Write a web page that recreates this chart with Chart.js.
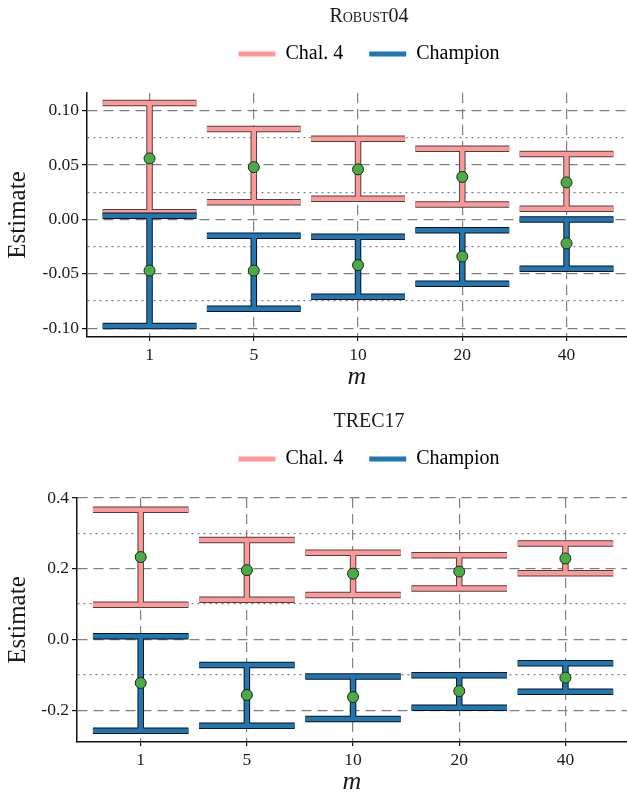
<!DOCTYPE html>
<html lang="en">
<head>
<meta charset="UTF-8">
<title>Robust04 / TREC17</title>
<script src="https://cdn.jsdelivr.net/npm/chart.js@4.4.1/dist/chart.umd.min.js"></script>
<style>
    html, body { margin: 0; padding: 0; background: #fff; overflow: hidden; }
    #wrap { width: 627px; height: 795px; overflow: hidden; position: relative; }
    canvas { display: block; position: absolute; left: 0; }
    #topChart { top: 0; }
    #bottomChart { top: 405px; }
</style>
</head>
<body>
<div id="wrap">
    <canvas id="topChart" width="738" height="405"></canvas>
    <canvas id="bottomChart" width="738" height="405"></canvas>
</div>
<script>
    var categories = ['1', '5', '10', '20', '40'];
    var seriesNames = ['Chal. 4', 'Champion'];

    // Robust04
    var robChalMean = [0.056, 0.048, 0.046, 0.039, 0.034];
    var robChalLow = [0.0066, 0.0157, 0.019, 0.0138, 0.0098];
    var robChalHigh = [0.107, 0.083, 0.074, 0.065, 0.060];
    var robChampMean = [-0.047, -0.047, -0.042, -0.034, -0.022];
    var robChampLow = [-0.098, -0.082, -0.071, -0.059, -0.0454];
    var robChampHigh = [0.0034, -0.015, -0.016, -0.010, 0.000];
    var robTicks = [-0.1, -0.05, 0, 0.05, 0.1];
    var robTickLabels = ['-0.10', '-0.05', '0.00', '0.05', '0.10'];
    var robMinorTicks = [-0.075, -0.025, 0.025, 0.075];

    // TREC17
    var trecChalMean = [0.233, 0.196, 0.186, 0.192, 0.229];
    var trecChalLow = [0.098, 0.112, 0.126, 0.144, 0.187];
    var trecChalHigh = [0.367, 0.281, 0.245, 0.238, 0.271];
    var trecChampMean = [-0.123, -0.157, -0.163, -0.146, -0.108];
    var trecChampLow = [-0.258, -0.244, -0.225, -0.193, -0.148];
    var trecChampHigh = [0.009, -0.072, -0.105, -0.101, -0.067];
    var trecTicks = [-0.2, 0, 0.2, 0.4];
    var trecTickLabels = ['-0.2', '0.0', '0.2', '0.4'];
    var trecMinorTicks = [-0.1, 0.1, 0.3];

    var pink = '#ff9896', blue = '#1f77b4', green = '#4aac44';
    var serif = "'Liberation Serif', 'DejaVu Serif', serif";
    var capHalf = 0.45;

    // caps + stem for every category, split by null gaps
    function errorSegments(low, high) {
        var pts = [];
        categories.forEach(function (c, i) {
            pts.push({x: i - capHalf, y: high[i]}, {x: i + capHalf, y: high[i]}, {x: i, y: null});
            pts.push({x: i - capHalf, y: low[i]}, {x: i + capHalf, y: low[i]}, {x: i, y: null});
            pts.push({x: i, y: low[i]}, {x: i, y: high[i]}, {x: i, y: null});
        });
        return pts;
    }

    function meanPoints(mean) {
        return categories.map(function (c, i) { return {x: i, y: mean[i]}; });
    }

    function segDataset(data, color, width, order) {
        return {
            type: 'line', data: data, borderColor: color, borderWidth: width,
            pointRadius: 0, pointHoverRadius: 0, fill: false, tension: 0,
            borderCapStyle: 'butt', borderJoinStyle: 'miter', order: order,
            xAxisID: 'x', yAxisID: 'y'
        };
    }

    function makeChart(id, title, d) {
        var ctx = document.getElementById(id).getContext('2d');
        var allTicks = d.ticks.concat(d.minor).sort(function (a, b) { return a - b; });
        function isMajor(v) {
            return d.ticks.some(function (t) { return Math.abs(t - v) < 1e-9; });
        }
        return new Chart(ctx, {
            type: 'line',
            data: {
                datasets: [
                    {
                        type: 'line', showLine: false, data: meanPoints(d.chalMean),
                        pointRadius: 5.5, pointBackgroundColor: green, pointBorderColor: '#222',
                        pointBorderWidth: 1, order: 0, xAxisID: 'x', yAxisID: 'y'
                    },
                    {
                        type: 'line', showLine: false, data: meanPoints(d.champMean),
                        pointRadius: 5.5, pointBackgroundColor: green, pointBorderColor: '#222',
                        pointBorderWidth: 1, order: 0, xAxisID: 'x', yAxisID: 'y'
                    },
                    segDataset(errorSegments(d.champLow, d.champHigh), blue, 4.5, 1),
                    segDataset(errorSegments(d.champLow, d.champHigh), '#111', 6.5, 2),
                    segDataset(errorSegments(d.chalLow, d.chalHigh), pink, 4.5, 3),
                    segDataset(errorSegments(d.chalLow, d.chalHigh), '#444', 6.5, 4)
                ]
            },
            options: {
                responsive: false,
                animation: false,
                events: [],
                layout: {padding: 0},
                plugins: {
                    tooltip: {enabled: false},
                    title: {
                        display: true, text: title, color: '#1a1a1a',
                        font: {family: serif, size: 20, weight: 'small-caps'},
                        padding: {top: 5, bottom: -11}
                    },
                    legend: {
                        display: true,
                        labels: {
                            boxWidth: 37, boxHeight: 5, padding: 26, color: '#1a1a1a',
                            font: {family: serif, size: 20},
                            generateLabels: function () {
                                return [
                                    {text: seriesNames[0], fillStyle: pink, strokeStyle: pink, lineWidth: 0, hidden: false},
                                    {text: seriesNames[1], fillStyle: blue, strokeStyle: blue, lineWidth: 0, hidden: false}
                                ];
                            }
                        }
                    }
                },
                scales: {
                    x: {
                        type: 'linear', axis: 'x', position: 'bottom',
                        min: -0.6, max: 4.58,
                        afterBuildTicks: function (s) {
                            s.ticks = categories.map(function (c, i) { return {value: i}; });
                        },
                        afterFit: function (s) { s.height = 68; },
                        ticks: {
                            autoSkip: false, maxRotation: 0, padding: 4, color: '#1a1a1a',
                            font: {family: serif, size: 17.5},
                            callback: function (v) { return categories[v]; }
                        },
                        grid: {
                            color: '#808080', lineWidth: 1.2, tickLength: 4,
                            tickColor: '#111', tickWidth: 1.2
                        },
                        border: {color: '#111', width: 1.5, dash: [10, 6]},
                        title: {
                            display: true, text: 'm', color: '#1a1a1a',
                            font: {family: serif, size: 26, style: 'italic'},
                            padding: {top: 0, bottom: 12.5}
                        }
                    },
                    xTop: {
                        type: 'linear', axis: 'x', position: 'top', display: true,
                        afterFit: function (s) { s.height = 19; },
                        grid: {display: false}, border: {display: false}, ticks: {display: false}
                    },
                    y: {
                        type: 'linear', axis: 'y', position: 'left',
                        min: d.yMin, max: d.yMax,
                        afterBuildTicks: function (s) {
                            s.ticks = allTicks.map(function (v) { return {value: v}; });
                        },
                        afterFit: function (s) { s.width = d.axisLeft; },
                        ticks: {
                            autoSkip: false, padding: 3, color: '#1a1a1a',
                            font: {family: serif, size: 17.5},
                            callback: function (v) {
                                var k = d.ticks.findIndex(function (t) { return Math.abs(t - v) < 1e-9; });
                                return k >= 0 ? d.labels[k] : '';
                            }
                        },
                        grid: {
                            color: '#808080', lineWidth: 1.2, tickLength: 5, tickWidth: 1.2,
                            tickColor: function (c) { return c.tick && isMajor(c.tick.value) ? '#111' : 'rgba(0,0,0,0)'; }
                        },
                        border: {
                            color: '#111', width: 1.5,
                            dash: function (c) {
                                if (!c.tick) return [];
                                return isMajor(c.tick.value) ? [10, 6] : [2, 4];
                            }
                        },
                        title: {
                            display: true, text: 'Estimate', color: '#1a1a1a',
                            font: {family: serif, size: 25},
                            padding: {top: 3.5, bottom: 0}
                        }
                    },
                    yRight: {
                        type: 'linear', axis: 'y', position: 'right', display: true,
                        afterFit: function (s) { s.width = 111; },
                        grid: {display: false}, border: {display: false}, ticks: {display: false}
                    }
                }
            }
        });
    }

    makeChart('topChart', 'Robust04', {
        chalMean: robChalMean, chalLow: robChalLow, chalHigh: robChalHigh,
        champMean: robChampMean, champLow: robChampLow, champHigh: robChampHigh,
        ticks: robTicks, labels: robTickLabels, minor: robMinorTicks,
        yMin: -0.108, yMax: 0.1161, axisLeft: 87
    });

    makeChart('bottomChart', 'TREC17', {
        chalMean: trecChalMean, chalLow: trecChalLow, chalHigh: trecChalHigh,
        champMean: trecChampMean, champLow: trecChampLow, champHigh: trecChampHigh,
        ticks: trecTicks, labels: trecTickLabels, minor: trecMinorTicks,
        yMin: -0.29, yMax: 0.4, axisLeft: 77
    });
</script>
</body>
</html>
